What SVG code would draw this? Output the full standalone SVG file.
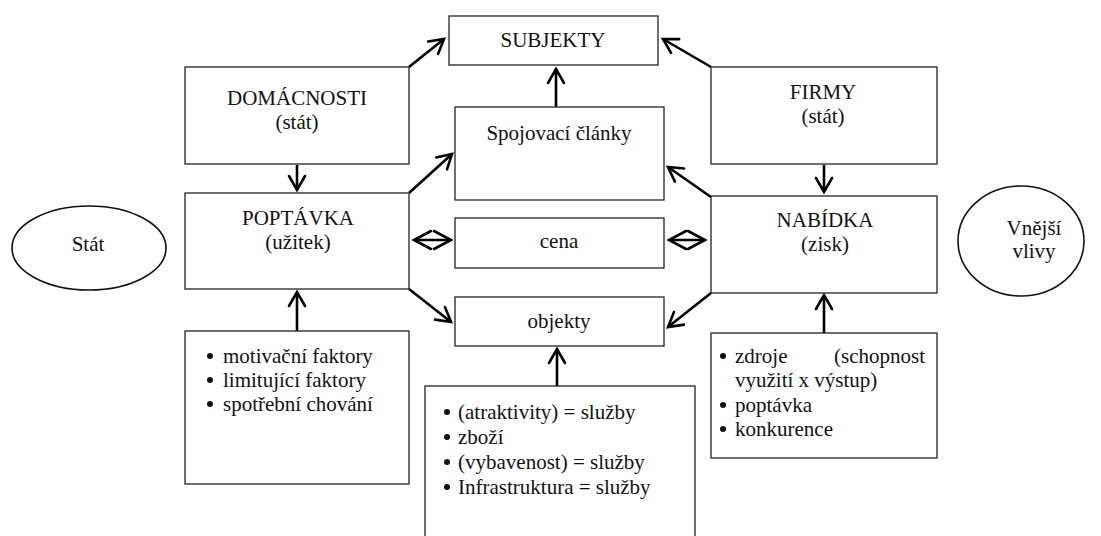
<svg xmlns="http://www.w3.org/2000/svg" width="1101" height="536" viewBox="0 0 1101 536">
  <style>
    .box { fill: #fff; stroke: #222; stroke-width: 1.3; }
    .oval { fill: #fff; stroke: #111; stroke-width: 1.6; }
    text { font-family: "Liberation Serif", "Tinos", "Times New Roman", "DejaVu Serif", serif; font-size: 21px; fill: #111; }
    .c { text-anchor: middle; }
    .arr { fill: none; stroke: #000; stroke-width: 2.6; marker-end: url(#head); }
    .dbl { fill: none; stroke: #000; stroke-width: 2.6; marker-start: url(#wide); marker-end: url(#wide); }
    .dot { fill: #111; }
  </style>
  <defs>
    <marker id="head" markerUnits="userSpaceOnUse" markerWidth="40" markerHeight="40" refX="0" refY="0" viewBox="-20 -20 40 40" orient="auto" overflow="visible">
      <path d="M-14,-8 L0,0 L-14,8" fill="none" stroke="#000" stroke-width="2.6" stroke-linecap="round" stroke-linejoin="miter"/>
    </marker>
    <marker id="wide" markerUnits="userSpaceOnUse" markerWidth="40" markerHeight="40" refX="0" refY="0" viewBox="-20 -20 40 40" orient="auto-start-reverse" overflow="visible">
      <path d="M-17,-9 L0,0 L-17,9" fill="none" stroke="#000" stroke-width="2.6" stroke-linecap="round"/>
    </marker>
  </defs>

  <rect width="1101" height="536" fill="#fff"/>

  <g id="connectors">
    <path class="arr" d="M409,67 L444,39"/>
    <path class="arr" d="M711,67 L663,39"/>
    <path class="arr" d="M556,107 L556,69"/>
    <path class="arr" d="M409,193 L452,154"/>
    <path class="arr" d="M711,197 L668,167"/>
    <path class="arr" d="M297,165 L297,190"/>
    <path class="arr" d="M824,165 L824,192"/>
    <path class="arr" d="M297,331 L297,292"/>
    <path class="arr" d="M824,333 L824,295"/>
    <path class="arr" d="M557,386 L557,349"/>
    <path class="arr" d="M409,289 L451,322"/>
    <path class="arr" d="M711,293 L668,327"/>
    <path class="dbl" d="M414,240 L451,240"/>
    <path class="dbl" d="M669,240 L705,240"/>
  </g>

  <g id="subjekty">
    <rect class="box" x="449" y="16" width="209" height="49"/>
    <text class="c" x="553" y="47">SUBJEKTY</text>
  </g>

  <g id="domacnosti">
    <rect class="box" x="185" y="67" width="224" height="97"/>
    <text class="c" x="297" y="105">DOMÁCNOSTI</text>
    <text class="c" x="297" y="129">(stát)</text>
  </g>

  <g id="firmy">
    <rect class="box" x="711" y="67" width="226" height="97"/>
    <text class="c" x="823" y="99">FIRMY</text>
    <text class="c" x="823" y="123">(stát)</text>
  </g>

  <g id="spojovaci">
    <rect class="box" x="455" y="107" width="209" height="93"/>
    <text class="c" x="559" y="140">Spojovací články</text>
  </g>

  <g id="poptavka">
    <rect class="box" x="185" y="193" width="224" height="96"/>
    <text class="c" x="298" y="225">POPTÁVKA</text>
    <text class="c" x="298" y="249">(užitek)</text>
  </g>

  <g id="cena">
    <rect class="box" x="455" y="218" width="209" height="50"/>
    <text class="c" x="559" y="248">cena</text>
  </g>

  <g id="nabidka">
    <rect class="box" x="711" y="196" width="226" height="97"/>
    <text class="c" x="825" y="227">NABÍDKA</text>
    <text class="c" x="825" y="251">(zisk)</text>
  </g>

  <g id="objekty">
    <rect class="box" x="455" y="297" width="209" height="49"/>
    <text class="c" x="559" y="328">objekty</text>
  </g>

  <g id="stat">
    <ellipse class="oval" cx="89" cy="248" rx="77" ry="42"/>
    <text class="c" x="88" y="251">Stát</text>
  </g>

  <g id="vnejsi-vlivy">
    <ellipse class="oval" cx="1021" cy="241" rx="63" ry="55"/>
    <text class="c" x="1034" y="235">Vnější</text>
    <text class="c" x="1034" y="258">vlivy</text>
  </g>

  <g id="faktory-poptavky">
    <rect class="box" x="185" y="331" width="224" height="153"/>
    <circle class="dot" cx="210" cy="356" r="3"/>
    <circle class="dot" cx="210" cy="380" r="3"/>
    <circle class="dot" cx="210" cy="404" r="3"/>
    <text x="223" y="363">motivační faktory</text>
    <text x="223" y="387">limitující faktory</text>
    <text x="223" y="411">spotřební chování</text>
  </g>

  <g id="objekty-seznam">
    <rect class="box" x="425" y="386" width="270" height="160"/>
    <circle class="dot" cx="447" cy="412" r="3"/>
    <circle class="dot" cx="447" cy="437" r="3"/>
    <circle class="dot" cx="447" cy="462" r="3"/>
    <circle class="dot" cx="447" cy="487" r="3"/>
    <text x="458" y="419">(atraktivity) = služby</text>
    <text x="458" y="444">zboží</text>
    <text x="458" y="469">(vybavenost) = služby</text>
    <text x="458" y="494">Infrastruktura = služby</text>
  </g>

  <g id="faktory-nabidky">
    <rect class="box" x="711" y="333" width="226" height="125"/>
    <circle class="dot" cx="723" cy="356" r="3"/>
    <circle class="dot" cx="723" cy="405" r="3"/>
    <circle class="dot" cx="723" cy="429" r="3"/>
    <text x="735" y="363">zdroje</text>
    <text x="925" y="363" text-anchor="end">(schopnost</text>
    <text x="735" y="387">využití x výstup)</text>
    <text x="735" y="412">poptávka</text>
    <text x="735" y="436">konkurence</text>
  </g>
</svg>
